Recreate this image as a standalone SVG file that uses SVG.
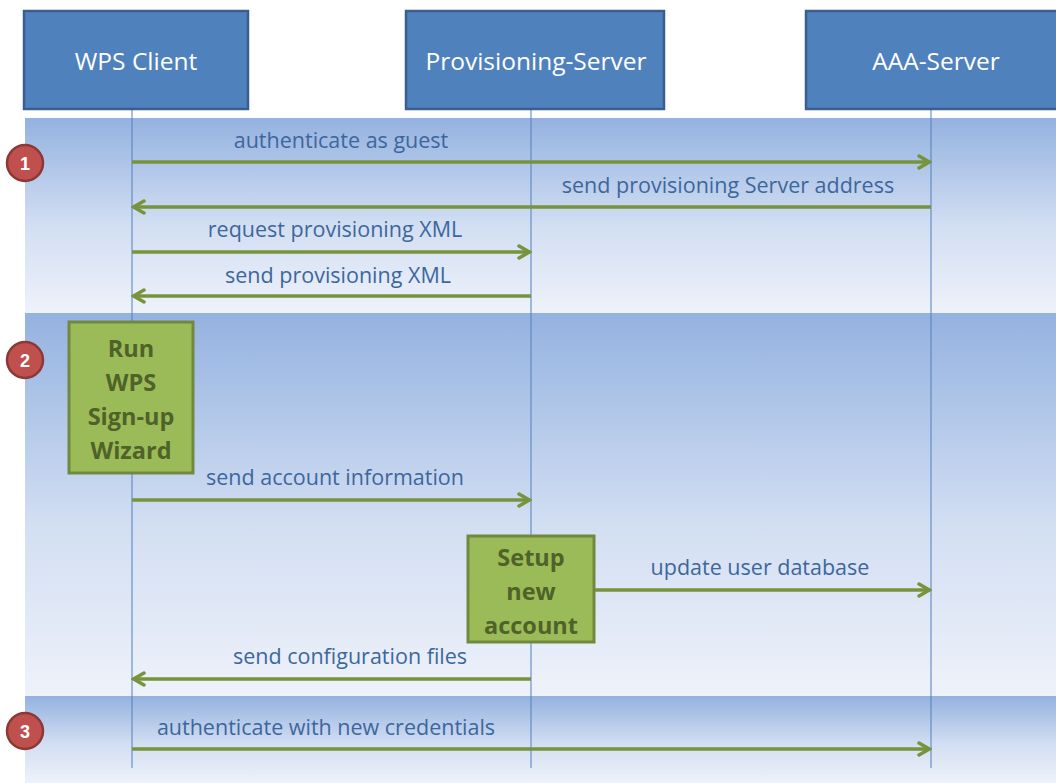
<svg xmlns="http://www.w3.org/2000/svg" width="1056" height="783" viewBox="0 0 1056 783">
<style>
.hdr rect{fill:#4f81bd;stroke:#3a5f8f;stroke-width:2.5}
.hdr text{fill:#fff;font-family:"Open Sans","Liberation Sans",sans-serif;font-size:24.5px;text-anchor:middle}
.life{stroke:#4f81bd;stroke-width:1}
.msg{stroke:#77933c;stroke-width:3.5;fill:none;marker-end:url(#ah)}
.lbl{fill:#3d679c;font-family:"Open Sans","Liberation Sans",sans-serif;font-size:21.5px;text-anchor:middle}
.act rect{fill:#9bbb59;stroke:#71893f;stroke-width:3}
.act text{fill:#4f6228;font-family:"Open Sans","Liberation Sans",sans-serif;font-size:23.5px;font-weight:bold;text-anchor:middle}
.num circle{fill:#c0504d;stroke:#8c3836;stroke-width:2.5}
.num text{fill:#fff;font-family:"Liberation Sans",sans-serif;font-size:18px;font-weight:bold;text-anchor:middle}
</style>
<defs>
<linearGradient id="band" x1="0" y1="0" x2="0" y2="1">
<stop offset="0" stop-color="#94b2e0"/>
<stop offset="0.55" stop-color="#d2def2"/>
<stop offset="1" stop-color="#eef2fa"/>
</linearGradient>
<marker id="ah" viewBox="0 0 16 16" refX="14" refY="8" markerWidth="16" markerHeight="16" markerUnits="userSpaceOnUse" orient="auto">
<path d="M3,2 L13.5,8 L3,14" fill="none" stroke="#77933c" stroke-width="3.5" stroke-linecap="round" stroke-linejoin="miter"/>
</marker>
</defs>
<rect width="1056" height="783" fill="#fff"/>
<g id="bands">
<rect x="25" y="118" width="1031" height="195" fill="url(#band)"/>
<rect x="25" y="313" width="1031" height="383" fill="url(#band)"/>
<rect x="25" y="696" width="1031" height="87" fill="url(#band)"/>
</g>
<g id="lifelines">
<line class="life" x1="132" y1="109" x2="132" y2="768"/>
<line class="life" x1="531" y1="109" x2="531" y2="768"/>
<line class="life" x1="931" y1="109" x2="931" y2="768"/>
</g>
<g id="wps-client" class="hdr"><rect x="24" y="11" width="224" height="98"/><text x="136" y="70">WPS Client</text></g>
<g id="provisioning-server" class="hdr"><rect x="406" y="11" width="258" height="98"/><text x="536" y="70">Provisioning-Server</text></g>
<g id="aaa-server" class="hdr"><rect x="806" y="11" width="260" height="98"/><text x="936" y="70">AAA-Server</text></g>
<g id="step1" class="num"><circle cx="25" cy="163" r="18"/><text x="25" y="169.5">1</text></g>
<g id="step2" class="num"><circle cx="25" cy="360" r="18"/><text x="25" y="366.5">2</text></g>
<g id="step3" class="num"><circle cx="25" cy="731" r="18"/><text x="25" y="737.5">3</text></g>
<g id="run-wizard" class="act"><rect x="69" y="322" width="124" height="151"/>
<text x="131" y="357">Run</text><text x="131" y="391">WPS</text><text x="131" y="425">Sign-up</text><text x="131" y="459">Wizard</text></g>
<g id="setup-account" class="act"><rect x="468" y="536" width="126" height="106"/>
<text x="531" y="566">Setup</text><text x="531" y="600">new</text><text x="531" y="634">account</text></g>
<g id="connectors">
<line class="msg" x1="132" y1="162" x2="930" y2="162"/>
<text class="lbl" x="341" y="148">authenticate as guest</text>
<line class="msg" x1="931" y1="207" x2="133" y2="207"/>
<text class="lbl" x="728" y="193">send provisioning Server address</text>
<line class="msg" x1="132" y1="252" x2="530" y2="252"/>
<text class="lbl" x="335" y="237">request provisioning XML</text>
<line class="msg" x1="531" y1="296" x2="133" y2="296"/>
<text class="lbl" x="338" y="283">send provisioning XML</text>
<line class="msg" x1="132" y1="500" x2="530" y2="500"/>
<text class="lbl" x="335" y="485">send account information</text>
<line class="msg" x1="595" y1="590" x2="930" y2="590"/>
<text class="lbl" x="760" y="575">update user database</text>
<line class="msg" x1="531" y1="679" x2="133" y2="679"/>
<text class="lbl" x="350" y="664">send configuration files</text>
<line class="msg" x1="132" y1="749" x2="930" y2="749"/>
<text class="lbl" x="326" y="735">authenticate with new credentials</text>
</g>
</svg>
